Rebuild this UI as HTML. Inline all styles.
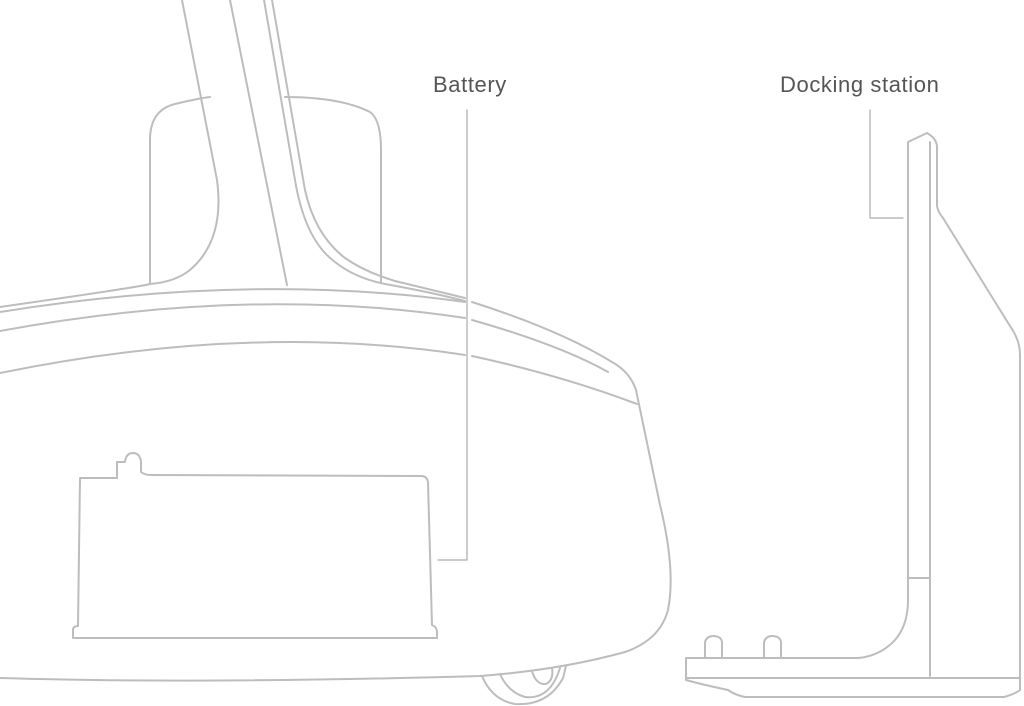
<!DOCTYPE html>
<html><head><style>
html,body{margin:0;padding:0;background:#fff;width:1024px;height:706px;overflow:hidden}
svg{display:block}
text{font-family:"Liberation Sans",sans-serif;font-size:22px;fill:#555;letter-spacing:0.6px}
</style></head><body>
<svg width="1024" height="706" viewBox="0 0 1024 706" fill="none" stroke="#bdbdbd" stroke-width="2" stroke-linejoin="round" stroke-linecap="round">
<path d="M150 284 V140 Q150 110 175 104 Q200 98 210 97"/>
<path d="M285 97 Q340 97 370 112 Q381 120 381 150 V282"/>
<path d="M182 0 L217 180 Q225 240 190 270 Q175 282 150 284"/>
<path d="M230 0 L287 285"/>
<path d="M264 0 L295 180 Q305 240 335 262 Q355 278 385 284 Q430 292 465 301"/>
<path d="M272 0 L305 190 Q315 235 345 258 Q365 272 395 281 L465 298"/>
<path d="M0 307 Q140 287 150 284"/>
<path d="M0 312 Q250 272 465 302"/>
<path d="M0 331 Q250 285 465 318"/>
<path d="M0 373 Q250 322 465 355"/>
<path d="M472 302 Q560 330 612 362 Q630 372 636 390 L660 505 Q676 570 668 610 Q660 640 625 652 Q560 670 480 676 Q200 684 0 678"/>
<path d="M472 320 Q560 345 608 372"/>
<path d="M472 356 Q560 375 637 404"/>
<path d="M482 676 Q492 700 515 704 Q548 706 563 678 L566 666"/>
<path d="M500 674 Q508 692 525 697 Q550 700 560 668"/>
<path d="M532 671 Q536 685 546 684 Q554 680 552 668"/>
<path d="M80 478 H117 V462 H125 Q126 453 133 453 Q140 453 141 462 V472 Q145 475 150 475 L421 476 Q427 476 428 482 L432 625 Q437 627 437 632 V638 H73 V630 Q73 626 78 626 L80 478 Z"/>
<path d="M467 110 V560 H438" stroke-width="1.2" stroke="#aaa"/>
<path d="M908 142 L927 133 Q936 138 937 146 V206 Q938 212 943 218 L1010 326 Q1020 340 1020 355 V690 Q1015 694 1004 697 H745 Q735 695 728 690 Q700 684 686 680 V658 H858 Q880 656 895 640 Q908 625 908 600 Z"/>
<path d="M930 142 V676"/>
<path d="M908 578 H930"/>
<path d="M686 678 H1020"/>
<path d="M705 658 V642 Q707 636 713 636 Q721 636 722 642 V658"/>
<path d="M764 658 V642 Q766 636 772 636 Q780 636 781 642 V658"/>
<path d="M870 110 V218 H903" stroke-width="1.2" stroke="#aaa"/>
<text x="433" y="92" stroke="none">Battery</text>
<text x="780" y="92" stroke="none">Docking station</text>
</svg>
</body></html>
